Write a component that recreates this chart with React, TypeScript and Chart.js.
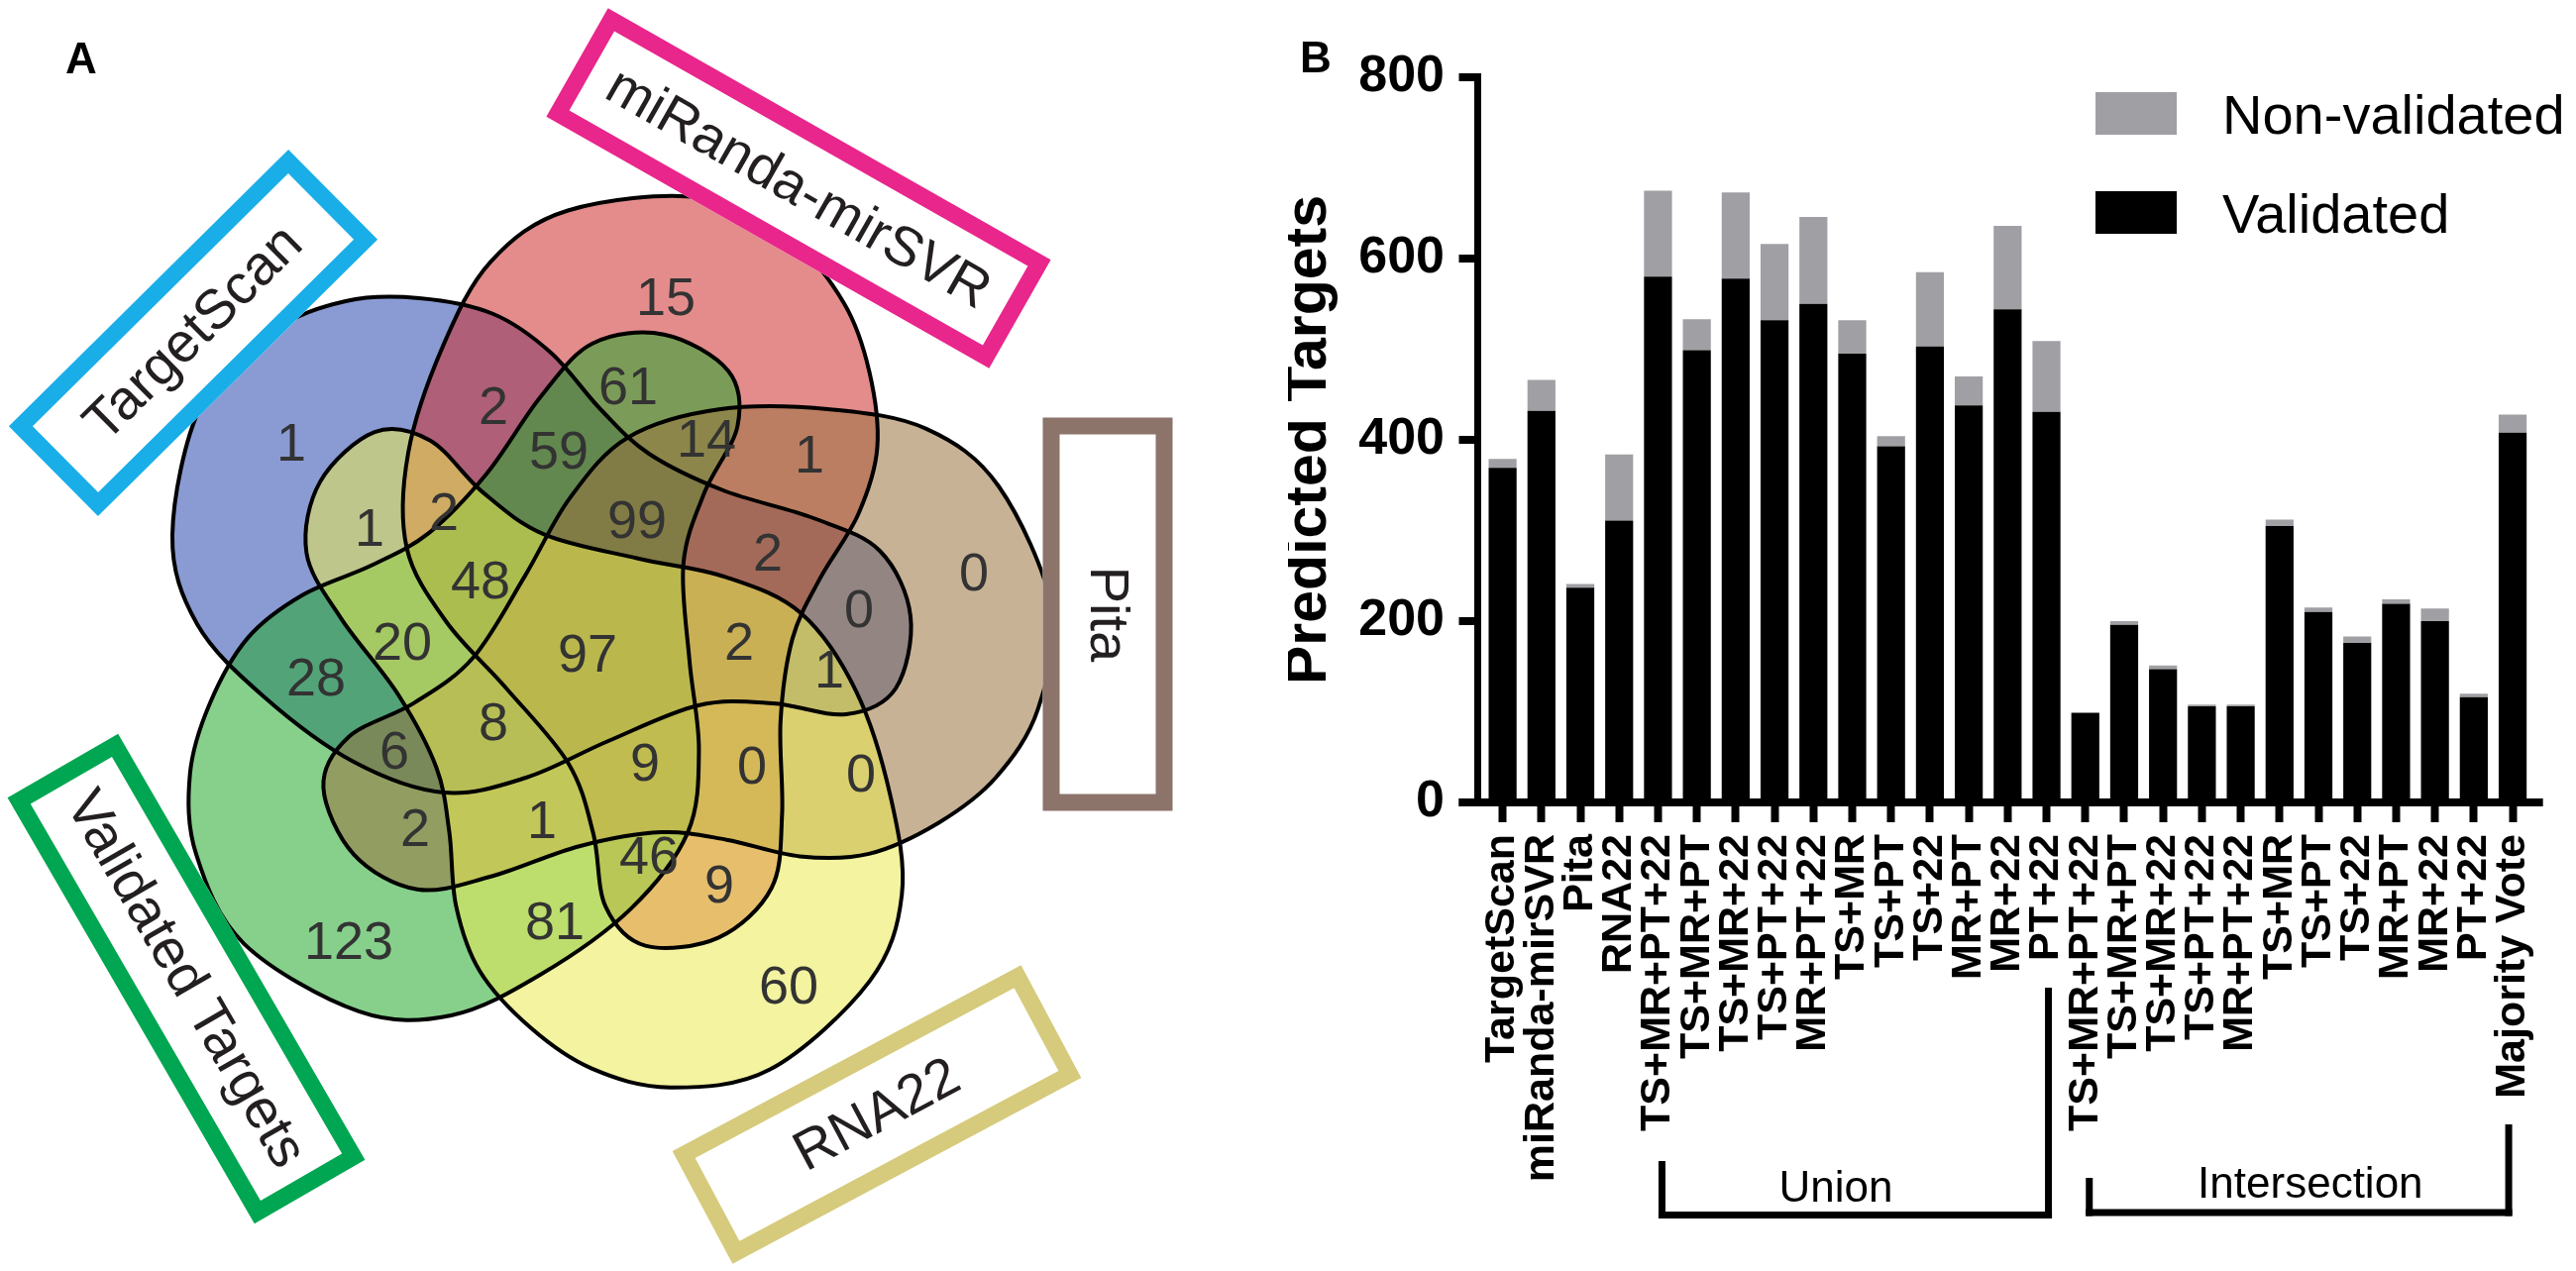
import React, { useEffect, useRef } from "react";
import { Chart, registerables } from "chart.js";
Chart.register(...registerables);

const FONT = "'Liberation Sans', Arial, Helvetica, sans-serif";

// ---------------- Panel B data ----------------
const categories = [
  "TargetScan", "miRanda-mirSVR", "Pita", "RNA22",
  "TS+MR+PT+22", "TS+MR+PT", "TS+MR+22", "TS+PT+22", "MR+PT+22", "TS+MR", "TS+PT", "TS+22", "MR+PT", "MR+22", "PT+22",
  "TS+MR+PT+22", "TS+MR+PT", "TS+MR+22", "TS+PT+22", "MR+PT+22", "TS+MR", "TS+PT", "TS+22", "MR+PT", "MR+22", "PT+22",
  "Majority Vote",
];
const validated = [369, 432, 237, 311, 580, 499, 578, 532, 550, 495, 393, 503, 438, 544, 431, 99, 196, 147, 106, 106, 305, 210, 176, 219, 200, 116, 408];
const nonValidated = [10, 34, 4, 73, 95, 34, 95, 84, 96, 37, 11, 82, 32, 92, 78, 0, 4, 4, 2, 2, 7, 5, 7, 5, 14, 4, 20];
const yTicks = [0, 200, 400, 600, 800];
const groupLabels = ["Union", "Intersection"];
const groupRanges = [[4, 14], [15, 26]];

// ---------------- Panel A data ----------------
const vennSets = ["TargetScan", "miRanda-mirSVR", "Pita", "RNA22", "Validated Targets"];
const vennCounts = [1, 15, 0, 60, 123, 2, 61, 59, 14, 1, 99, 2, 1, 48, 2, 0, 20, 97, 2, 1, 28, 6, 8, 9, 0, 0, 2, 1, 46, 9, 81];

// ---------------- Panel A layout (positions, not data) ----------------
const vennLabelPos = [
  [294, 450], [672, 303], [983, 581], [796, 998], [352, 953],
  [498, 413], [634, 393], [564, 458], [713, 446], [817, 462],
  [643, 528], [448, 520], [373, 536], [485, 589], [775, 561],
  [867, 618], [406, 651], [593, 663], [746, 651], [837, 679],
  [319, 687], [398, 761], [498, 732], [651, 773], [759, 776],
  [869, 784], [419, 839], [547, 831], [655, 867], [726, 896],
  [560, 933],
];
const vennCenter = [599, 651];
const blobTemplate = [
  [-425, -111], [-396, -242], [-325, -316], [-250, -347], [-176, -350], [-101, -334],
  [-43, -295], [7, -238], [56, -193], [131, -156], [222, -128], [289, -95], [320, -29],
  [305, 44], [255, 70], [181, 59], [106, 61], [15, 97], [-68, 134], [-151, 149],
  [-242, 118], [-333, 52], [-400, -21],
];
const blobRotationDeg = [0, 72, 144, 216, 288];
const blobColors = ["42,73,177", "206,46,46", "155,115,64", "233,233,82", "37,170,46"];
const blobDrawOrder = [0, 1, 4, 2, 3];
const vennBoxes = [
  { cx: 195, cy: 336, w: 397, h: 128, angle: -44.7, color: "#19AEE8" },
  { cx: 806, cy: 190, w: 514, h: 126, angle: 29.6, color: "#E8268B" },
  { cx: 1118, cy: 620, w: 397, h: 131, angle: 90, color: "#8C746A" },
  { cx: 885, cy: 1125, w: 399, h: 129, angle: -28.1, color: "#D6CB7C" },
  { cx: 188, cy: 988, w: 497, h: 129, angle: 59.9, color: "#00A651" },
];

function closedSpline(ctx: CanvasRenderingContext2D, pts: number[][]) {
  const n = pts.length;
  ctx.beginPath();
  ctx.moveTo(pts[0][0], pts[0][1]);
  for (let i = 0; i < n; i++) {
    const p0 = pts[(i - 1 + n) % n], p1 = pts[i], p2 = pts[(i + 1) % n], p3 = pts[(i + 2) % n];
    ctx.bezierCurveTo(
      p1[0] + (p2[0] - p0[0]) / 6, p1[1] + (p2[1] - p0[1]) / 6,
      p2[0] - (p3[0] - p1[0]) / 6, p2[1] - (p3[1] - p1[1]) / 6,
      p2[0], p2[1]
    );
  }
  ctx.closePath();
}

const vennPlugin = {
  id: "vennPlugin",
  beforeDatasetsDraw(chart: any) {
    const { ctx } = chart;
    const xs = chart.scales.x, ys = chart.scales.y;
    const paths = blobRotationDeg.map((deg) => {
      const a = (deg * Math.PI) / 180;
      const c = Math.cos(a), s = Math.sin(a);
      return blobTemplate.map(([x, y]) => [
        xs.getPixelForValue(vennCenter[0] + x * c - y * s),
        ys.getPixelForValue(vennCenter[1] + x * s + y * c),
      ]);
    });
    ctx.save();
    blobDrawOrder.forEach((k) => {
      closedSpline(ctx, paths[k]);
      ctx.fillStyle = `rgba(${blobColors[k]},0.55)`;
      ctx.fill();
    });
    ctx.strokeStyle = "#000";
    ctx.lineWidth = 4;
    blobDrawOrder.forEach((k) => {
      closedSpline(ctx, paths[k]);
      ctx.stroke();
    });
    // set name boxes
    vennBoxes.forEach((b, i) => {
      const px = xs.getPixelForValue(b.cx), py = ys.getPixelForValue(b.cy);
      const lw = 17;
      ctx.save();
      ctx.translate(px, py);
      ctx.rotate((b.angle * Math.PI) / 180);
      ctx.fillStyle = "#fff";
      ctx.fillRect(-b.w / 2, -b.h / 2, b.w, b.h);
      ctx.strokeStyle = b.color;
      ctx.lineWidth = lw;
      ctx.strokeRect(-b.w / 2 + lw / 2, -b.h / 2 + lw / 2, b.w - lw, b.h - lw);
      ctx.fillStyle = "#231F20";
      ctx.font = `56px ${FONT}`;
      ctx.textAlign = "center";
      ctx.textBaseline = "middle";
      ctx.fillText(vennSets[i], 0, 2);
      ctx.restore();
    });
    ctx.fillStyle = "#000";
    ctx.font = `bold 44px ${FONT}`;
    ctx.textAlign = "left";
    ctx.textBaseline = "alphabetic";
    ctx.fillText("A", 66, 74);
    ctx.restore();
  },
  afterDatasetsDraw(chart: any) {
    const { ctx } = chart;
    const meta = chart.getDatasetMeta(0);
    ctx.save();
    ctx.fillStyle = "#333";
    ctx.font = `54px ${FONT}`;
    ctx.textAlign = "center";
    ctx.textBaseline = "middle";
    meta.data.forEach((el: any, i: number) => {
      ctx.fillText(String(vennCounts[i]), el.x, el.y);
    });
    ctx.restore();
  },
};

const barDecor = {
  id: "barDecor",
  afterDraw(chart: any) {
    const { ctx, chartArea } = chart;
    const xs = chart.scales.x, ys = chart.scales.y;
    const axisX = chartArea.left - 5.5;
    const y0 = ys.getPixelForValue(0);
    const yTop = ys.getPixelForValue(800);
    ctx.save();
    ctx.fillStyle = "#000";
    ctx.fillRect(axisX - 3.5, yTop - 4, 7, y0 - yTop + 8);
    yTicks.forEach((v) => {
      const py = ys.getPixelForValue(v);
      ctx.fillRect(axisX - 19, py - 4, 22.5, 8);
    });
    ctx.fillRect(axisX - 19, y0 - 4, chartArea.right + 11 - (axisX - 19), 8);

    // group brackets
    const bracketTops = [[1172, 997], [1189, 1135]];
    const bracketY = [1226.5, 1224];
    const textFrac = [0.45, 0.527];
    const textBase = [1213, 1209];
    groupRanges.forEach(([a, b], g) => {
      const lx = xs.getPixelForValue(a) + 4;
      const rx = xs.getPixelForValue(b) + (g === 0 ? 2 : -4);
      const by = bracketY[g];
      ctx.fillRect(lx - 3.5, bracketTops[g][0], 7, by + 3.5 - bracketTops[g][0]);
      ctx.fillRect(rx - 3.5, bracketTops[g][1], 7, by + 3.5 - bracketTops[g][1]);
      ctx.fillRect(lx - 3.5, by - 3.5, rx - lx + 7, 7);
      ctx.font = `44px ${FONT}`;
      ctx.textAlign = "center";
      ctx.textBaseline = "alphabetic";
      ctx.fillText(groupLabels[g], lx + (rx - lx) * textFrac[g], textBase[g]);
    });

    // legend
    const ds = chart.data.datasets;
    const legendOrder = [1, 0];
    const boxTops = [93, 193];
    legendOrder.forEach((di, j) => {
      ctx.fillStyle = ds[di].backgroundColor;
      ctx.fillRect(815, boxTops[j], 82, 43);
      ctx.fillStyle = "#000";
      ctx.font = `56px ${FONT}`;
      ctx.textAlign = "left";
      ctx.textBaseline = "alphabetic";
      ctx.fillText(ds[di].label, 943, boxTops[j] + 42);
    });

    // panel letter
    ctx.font = `bold 44px ${FONT}`;
    ctx.fillText("B", 12, 73);
    ctx.restore();
  },
};

export default function App() {
  const vennRef = useRef<HTMLCanvasElement | null>(null);
  const barRef = useRef<HTMLCanvasElement | null>(null);

  useEffect(() => {
    document.body.style.margin = "0";
    const venn = new Chart(vennRef.current as HTMLCanvasElement, {
      type: "scatter",
      data: {
        datasets: [
          {
            data: vennLabelPos.map(([x, y]) => ({ x, y })),
            pointRadius: 0,
            pointHoverRadius: 0,
          },
        ],
      },
      options: {
        animation: false,
        responsive: false,
        events: [],
        layout: { padding: 0 },
        plugins: { legend: { display: false }, tooltip: { enabled: false } },
        scales: {
          x: { type: "linear", min: 0, max: 1300, display: false },
          y: { type: "linear", min: 0, max: 1283, reverse: true, display: false },
        },
      },
      plugins: [vennPlugin],
    } as any);

    const bar = new Chart(barRef.current as HTMLCanvasElement, {
      type: "bar",
      data: {
        labels: categories,
        datasets: [
          { label: "Validated", data: validated, backgroundColor: "#000000", barPercentage: 0.72, categoryPercentage: 1 },
          { label: "Non-validated", data: nonValidated, backgroundColor: "#A0A0A4", barPercentage: 0.72, categoryPercentage: 1 },
        ],
      },
      options: {
        animation: false,
        responsive: false,
        events: [],
        layout: { padding: { left: 0, right: 18, top: 78, bottom: 0 } },
        plugins: { legend: { display: false }, tooltip: { enabled: false } },
        scales: {
          x: {
            stacked: true,
            offset: true,
            border: { display: false },
            grid: { display: true, drawOnChartArea: false, drawTicks: true, tickLength: 20, tickWidth: 8, tickColor: "#000", offset: false },
            ticks: { autoSkip: false, maxRotation: 90, minRotation: 90, padding: 12, color: "#000", font: { family: FONT, size: 43, weight: "bold" } },
            afterFit: (s: any) => { s.height = 473; },
          },
          y: {
            stacked: true,
            min: 0,
            max: 800,
            border: { display: false },
            grid: { display: false, drawTicks: false },
            ticks: { stepSize: 200, padding: 39, color: "#000", font: { family: FONT, size: 52, weight: "bold" } },
            title: { display: true, text: "Predicted Targets", color: "#000", padding: 0, font: { family: FONT, size: 59, weight: "bold", lineHeight: 0.75 } },
            afterFit: (s: any) => { s.width = 197; },
          },
        },
      },
      plugins: [barDecor],
    } as any);

    return () => {
      venn.destroy();
      bar.destroy();
    };
  }, []);

  return (
    <div style={{ position: "absolute", left: 0, top: 0, width: 2600, height: 1283, background: "#fff", overflow: "hidden" }}>
      <canvas ref={vennRef} width={1300} height={1283} style={{ position: "absolute", left: 0, top: 0, width: 1300, height: 1283 }} />
      <canvas ref={barRef} width={1300} height={1283} style={{ position: "absolute", left: 1300, top: 0, width: 1300, height: 1283 }} />
    </div>
  );
}
